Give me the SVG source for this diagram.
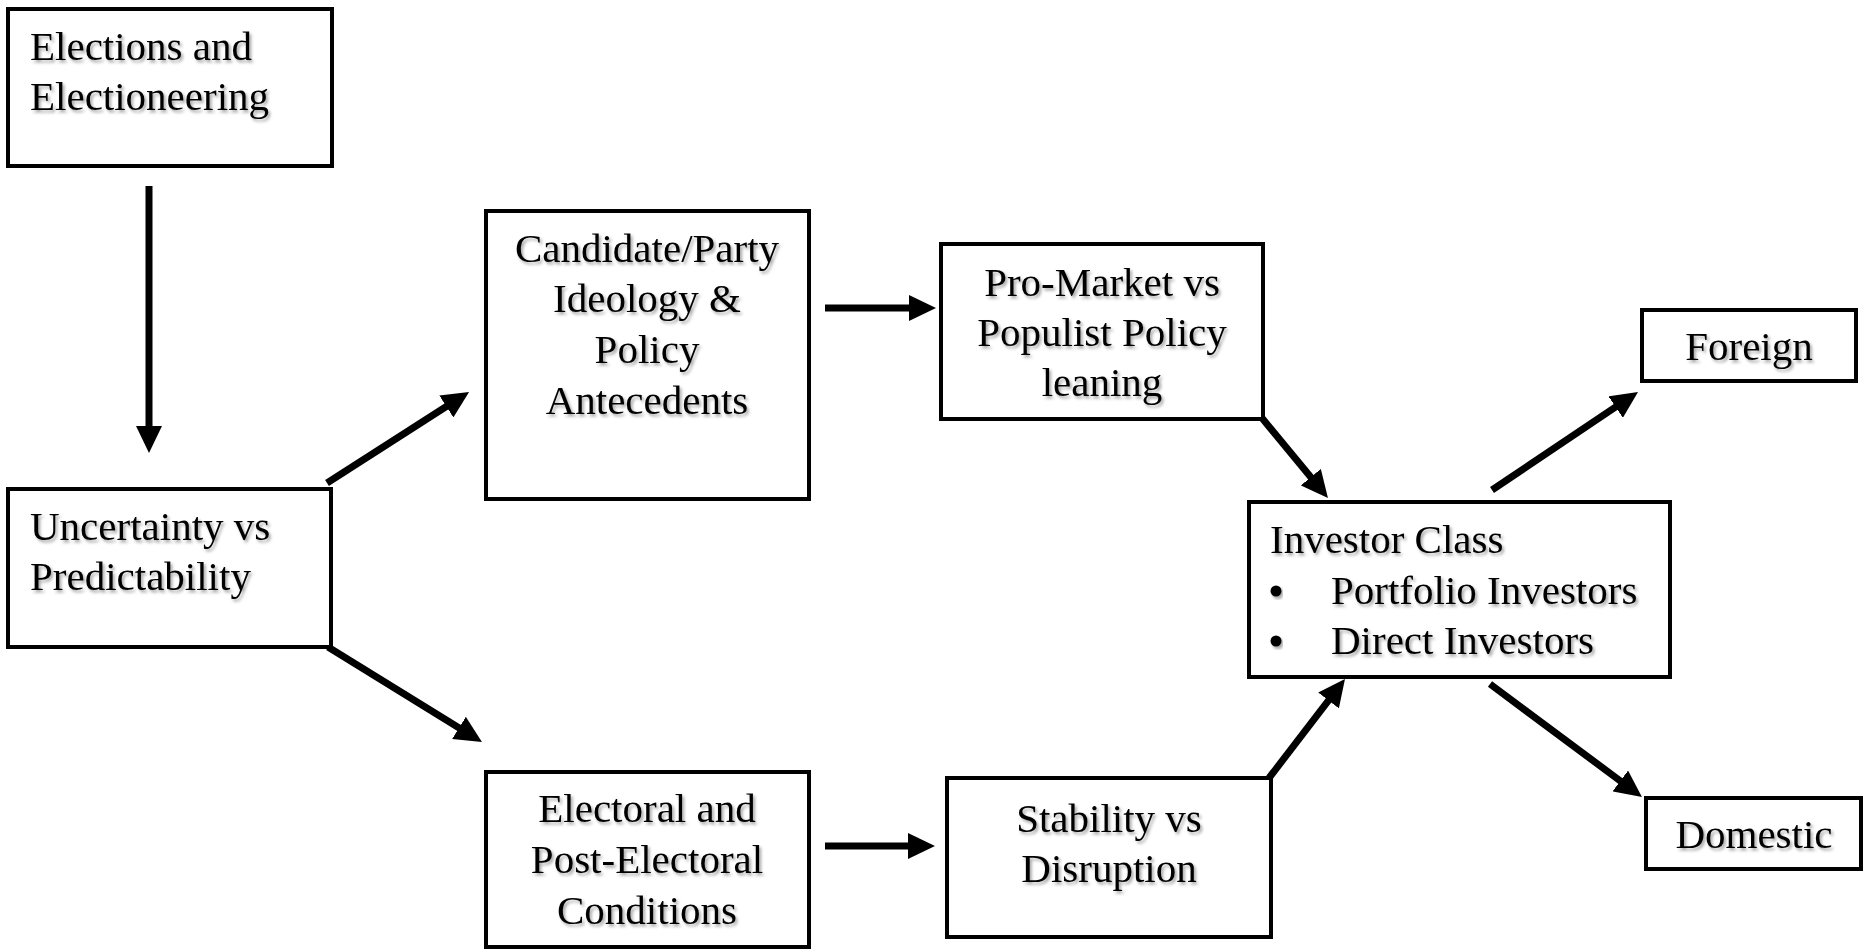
<svg xmlns="http://www.w3.org/2000/svg" width="1872" height="951" viewBox="0 0 1872 951">
  <style>
    .box { fill: #ffffff; stroke: #000000; stroke-width: 4; }
    .lbl { font-family: "Liberation Serif", "Times New Roman", serif; font-size: 41px; fill: #000000; filter: url(#soft); }
    .mid { text-anchor: middle; }
    .link { stroke: #000000; stroke-width: 7; fill: none; marker-end: url(#head); }
  </style>
  <defs>
    <filter id="soft" x="-10%" y="-30%" width="120%" height="160%">
      <feDropShadow dx="2" dy="2.5" stdDeviation="1.6" flood-color="#000000" flood-opacity="0.35"/>
    </filter>
    <marker id="head" viewBox="0 0 27 26" markerWidth="27" markerHeight="26" refX="6" refY="13" orient="auto" markerUnits="userSpaceOnUse">
      <path d="M0,0 L27,13 L0,26 z" fill="#000000"/>
    </marker>
  </defs>

  <rect width="1872" height="951" fill="#ffffff"/>

  <!-- connectors -->
  <g id="connectors">
    <line class="link" x1="149" y1="186" x2="149" y2="432"/>
    <line class="link" x1="327" y1="483" x2="451.4" y2="403.3"/>
    <line class="link" x1="328" y1="647" x2="464.1" y2="731"/>
    <line class="link" x1="825" y1="308" x2="915" y2="308"/>
    <line class="link" x1="825" y1="846" x2="914" y2="846"/>
    <line class="link" x1="1262" y1="418" x2="1314.6" y2="481.8"/>
    <line class="link" x1="1269" y1="778" x2="1332.2" y2="695.7"/>
    <line class="link" x1="1492" y1="490" x2="1620.6" y2="403.7"/>
    <line class="link" x1="1490" y1="684" x2="1625.1" y2="784.5"/>
  </g>

  <g id="elections">
    <rect class="box" x="8" y="9" width="324" height="157"/>
    <text class="lbl" x="30" y="60">Elections and</text>
    <text class="lbl" x="30" y="110">Electioneering</text>
  </g>

  <g id="uncertainty">
    <rect class="box" x="8" y="489" width="323" height="158"/>
    <text class="lbl" x="30" y="540">Uncertainty vs</text>
    <text class="lbl" x="30" y="590">Predictability</text>
  </g>

  <g id="ideology">
    <rect class="box" x="486" y="211" width="323" height="288"/>
    <text class="lbl mid" x="647" y="262">Candidate/Party</text>
    <text class="lbl mid" x="647" y="312">Ideology &amp;</text>
    <text class="lbl mid" x="647" y="363">Policy</text>
    <text class="lbl mid" x="647" y="414">Antecedents</text>
  </g>

  <g id="policy-leaning">
    <rect class="box" x="941" y="244" width="322" height="175"/>
    <text class="lbl mid" x="1102" y="296">Pro-Market vs</text>
    <text class="lbl mid" x="1102" y="346">Populist Policy</text>
    <text class="lbl mid" x="1102" y="396">leaning</text>
  </g>

  <g id="conditions">
    <rect class="box" x="486" y="772" width="323" height="175"/>
    <text class="lbl mid" x="647" y="822">Electoral and</text>
    <text class="lbl mid" x="647" y="873">Post-Electoral</text>
    <text class="lbl mid" x="647" y="924">Conditions</text>
  </g>

  <g id="stability">
    <rect class="box" x="947" y="778" width="324" height="159"/>
    <text class="lbl mid" x="1109" y="832">Stability vs</text>
    <text class="lbl mid" x="1109" y="882">Disruption</text>
  </g>

  <g id="investor-class">
    <rect class="box" x="1249" y="502" width="421" height="175"/>
    <text class="lbl" x="1270" y="553">Investor Class</text>
    <circle cx="1276" cy="591" r="5.5" fill="#000000" filter="url(#soft)"/>
    <text class="lbl" x="1331" y="604">Portfolio Investors</text>
    <circle cx="1276" cy="641" r="5.5" fill="#000000" filter="url(#soft)"/>
    <text class="lbl" x="1331" y="654">Direct Investors</text>
  </g>

  <g id="foreign">
    <rect class="box" x="1642" y="310" width="214" height="71"/>
    <text class="lbl mid" x="1749" y="360">Foreign</text>
  </g>

  <g id="domestic">
    <rect class="box" x="1646" y="798" width="215" height="71"/>
    <text class="lbl mid" x="1754" y="848">Domestic</text>
  </g>
</svg>
